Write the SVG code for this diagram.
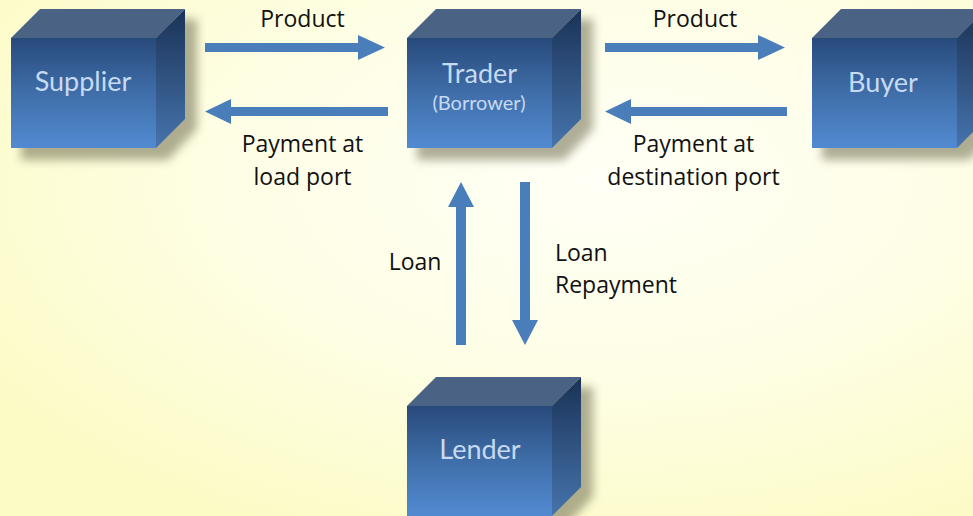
<svg xmlns="http://www.w3.org/2000/svg" xmlns:xlink="http://www.w3.org/1999/xlink" width="973" height="516" viewBox="0 0 973 516">
  <defs>
    <radialGradient id="bg" cx="0.62" cy="0.35" r="0.75">
      <stop offset="0" stop-color="#fffff6"/>
      <stop offset="0.5" stop-color="#fefee6"/>
      <stop offset="1" stop-color="#fcfbc6"/>
    </radialGradient>
    <linearGradient id="front" x1="0" y1="0" x2="0" y2="1">
      <stop offset="0" stop-color="#284a7b"/>
      <stop offset="0.5" stop-color="#3f6ea9"/>
      <stop offset="1" stop-color="#528ad2"/>
    </linearGradient>
    <linearGradient id="side" x1="0" y1="0" x2="0" y2="1">
      <stop offset="0" stop-color="#1a3256"/>
      <stop offset="1" stop-color="#4674ac"/>
    </linearGradient>
    <filter id="blur" x="-30%" y="-30%" width="160%" height="160%">
      <feGaussianBlur stdDeviation="5"/>
    </filter>
    <g id="cube">
      <polygon points="10,10 39,-19 186,-19 186,91 157,122 10,122" fill="#6e6c50" opacity="0.55" filter="url(#blur)"/>
      <rect x="0" y="0" width="145" height="110" fill="url(#front)"/>
      <polygon points="0,0 29,-29 174,-29 145,0" fill="#4a6283"/>
      <polygon points="145,0 174,-29 174,81 145,110" fill="url(#side)"/>
    </g>
  </defs>
  <style>
    .lbl { font-family: "Open Sans", "Liberation Sans", sans-serif; font-size: 23px; fill: #111111; }
    .node { font-family: Lato, "Open Sans", sans-serif; fill: #c6daf2; text-anchor: middle; }
    .arrow { fill: #4a7ebb; }
  </style>
  <rect x="0" y="0" width="973" height="516" fill="url(#bg)"/>

  <g id="connectors">
    <polygon class="arrow" points="205,43 358,43 358,35 385,47.5 358,60 358,52 205,52"/>
    <polygon class="arrow" points="388,107 231,107 231,99 205,111.5 231,124 231,116 388,116"/>
    <polygon class="arrow" points="605,43 758,43 758,35 785,47.5 758,60 758,52 605,52"/>
    <polygon class="arrow" points="787,107 631,107 631,99 605,111.5 631,124 631,116 787,116"/>
    <polygon class="arrow" points="456,345 456,207 448,207 461,182 474,207 466,207 466,345"/>
    <polygon class="arrow" points="520,182 520,320 512,320 525,345 538,320 530,320 530,182"/>
    <text class="lbl" x="302.5" y="27" text-anchor="middle">Product</text>
    <text class="lbl" x="302.5" y="152" text-anchor="middle">Payment at</text>
    <text class="lbl" x="302.5" y="185" text-anchor="middle">load port</text>
    <text class="lbl" x="695" y="27" text-anchor="middle">Product</text>
    <text class="lbl" x="693.5" y="152" text-anchor="middle">Payment at</text>
    <text class="lbl" x="693.5" y="185" text-anchor="middle">destination port</text>
    <text class="lbl" x="415" y="270" text-anchor="middle">Loan</text>
    <text class="lbl" x="555" y="261">Loan</text>
    <text class="lbl" x="555" y="293">Repayment</text>
  </g>

  <g id="supplier">
    <use xlink:href="#cube" x="11" y="38"/>
    <text class="node" x="83" y="91" font-size="27">Supplier</text>
  </g>
  <g id="trader">
    <use xlink:href="#cube" x="407" y="38"/>
    <text class="node" x="479.5" y="83" font-size="27">Trader</text>
    <text class="node" x="479" y="110" font-size="20">(Borrower)</text>
  </g>
  <g id="buyer">
    <use xlink:href="#cube" x="812" y="38"/>
    <text class="node" x="883" y="92" font-size="27">Buyer</text>
  </g>
  <g id="lender">
    <use xlink:href="#cube" x="407" y="406"/>
    <text class="node" x="480" y="459" font-size="27">Lender</text>
  </g>
</svg>
